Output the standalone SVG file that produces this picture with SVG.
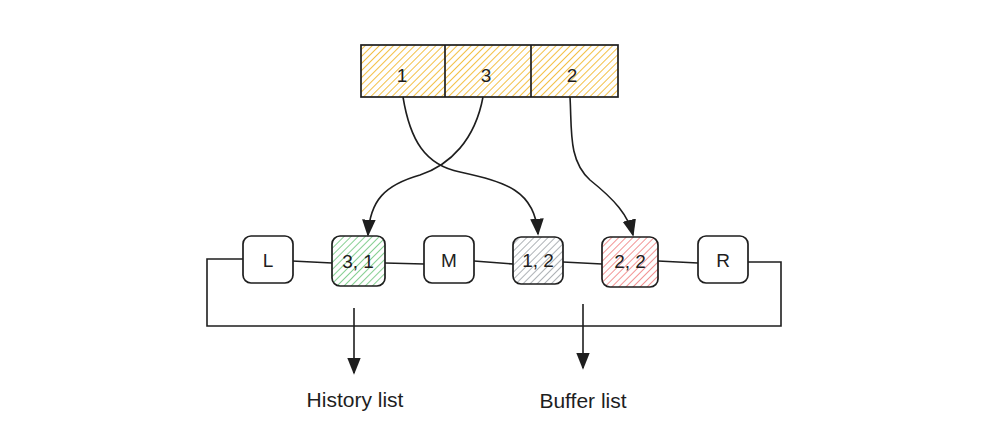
<svg xmlns="http://www.w3.org/2000/svg" width="1002" height="441" viewBox="0 0 1002 441">
<defs>
<pattern id="hy" width="5" height="5" patternUnits="userSpaceOnUse" patternTransform="rotate(45)"><line x1="0" y1="0" x2="0" y2="5" stroke="#f3c046" stroke-width="2"/></pattern>
<pattern id="hg" width="5" height="5" patternUnits="userSpaceOnUse" patternTransform="rotate(45)"><line x1="0" y1="0" x2="0" y2="5" stroke="#86cf92" stroke-width="2"/></pattern>
<pattern id="hk" width="5" height="5" patternUnits="userSpaceOnUse" patternTransform="rotate(45)"><line x1="0" y1="0" x2="0" y2="5" stroke="#aeb2b6" stroke-width="2"/></pattern>
<pattern id="hr" width="5" height="5" patternUnits="userSpaceOnUse" patternTransform="rotate(45)"><line x1="0" y1="0" x2="0" y2="5" stroke="#f29494" stroke-width="2"/></pattern>
<marker id="ab" viewBox="0 0 10 10" refX="9" refY="5" markerWidth="17" markerHeight="17" markerUnits="userSpaceOnUse" orient="auto"><path d="M0,1 L10,5 L0,9 Z" fill="#1e1e1e"/></marker>
</defs>
<style>
.box{stroke:#1e1e1e;stroke-width:1.7;}
.node{fill:#fff;stroke:#1e1e1e;stroke-width:1.7;}
.ln{fill:none;stroke:#1e1e1e;stroke-width:1.6;}
.t{font-family:"Liberation Sans",sans-serif;font-size:19px;fill:#1e1e1e;text-anchor:middle;dominant-baseline:central;}
.lbl{font-family:"Liberation Sans",sans-serif;font-size:21px;fill:#1e1e1e;text-anchor:middle;}
</style>
<rect width="1002" height="441" fill="#fff"/>
<g id="array">
<rect x="361" y="45" width="257" height="52" fill="url(#hy)" class="box"/>
<line x1="445" y1="45" x2="445" y2="97" class="box"/>
<line x1="531" y1="45" x2="531" y2="97" class="box"/>
<text x="402" y="75" class="t">1</text>
<text x="486" y="75" class="t">3</text>
<text x="572" y="75" class="t">2</text>
</g>
<g id="connectors">
<polyline points="243,259 207,259 207,326 781,326 781,262 748,262" class="ln"/>
<line x1="292" y1="261" x2="332" y2="263" class="ln"/>
<line x1="385" y1="263" x2="424" y2="264" class="ln"/>
<line x1="474" y1="261" x2="513" y2="264" class="ln"/>
<line x1="563" y1="262" x2="602" y2="264" class="ln"/>
<line x1="658" y1="261" x2="698" y2="263" class="ln"/>
<path d="M403,97 C410,140 425,165 460,172 C505,182 535,190 538,234" class="ln" marker-end="url(#ab)"/>
<path d="M483,97 C475,140 450,165 420,175 C385,185 370,200 368,235" class="ln" marker-end="url(#ab)"/>
<path d="M570,97 C572,130 568,160 590,180 C615,200 628,215 633,235" class="ln" marker-end="url(#ab)"/>
<line x1="354" y1="308" x2="354" y2="373" class="ln" marker-end="url(#ab)"/>
<line x1="583" y1="304" x2="583" y2="368" class="ln" marker-end="url(#ab)"/>
</g>
<g id="node-L"><rect x="243" y="236" width="50" height="47" rx="8" class="node"/><text x="268" y="260" class="t">L</text></g>
<g id="node-31"><rect x="332" y="236" width="53" height="50" rx="8" fill="url(#hg)" class="box"/><text x="358" y="261" class="t">3, 1</text></g>
<g id="node-M"><rect x="424" y="236" width="50" height="47" rx="8" class="node"/><text x="449" y="260" class="t">M</text></g>
<g id="node-12"><rect x="513" y="237" width="50" height="47" rx="8" fill="url(#hk)" class="box"/><text x="538" y="260" class="t">1, 2</text></g>
<g id="node-22"><rect x="602" y="237" width="56" height="50" rx="8" fill="url(#hr)" class="box"/><text x="630" y="261" class="t">2, 2</text></g>
<g id="node-R"><rect x="698" y="236" width="50" height="47" rx="8" class="node"/><text x="723" y="260" class="t">R</text></g>
<g id="labels">
<text x="355" y="407" class="lbl">History list</text>
<text x="583" y="408" class="lbl">Buffer list</text>
</g>
</svg>
